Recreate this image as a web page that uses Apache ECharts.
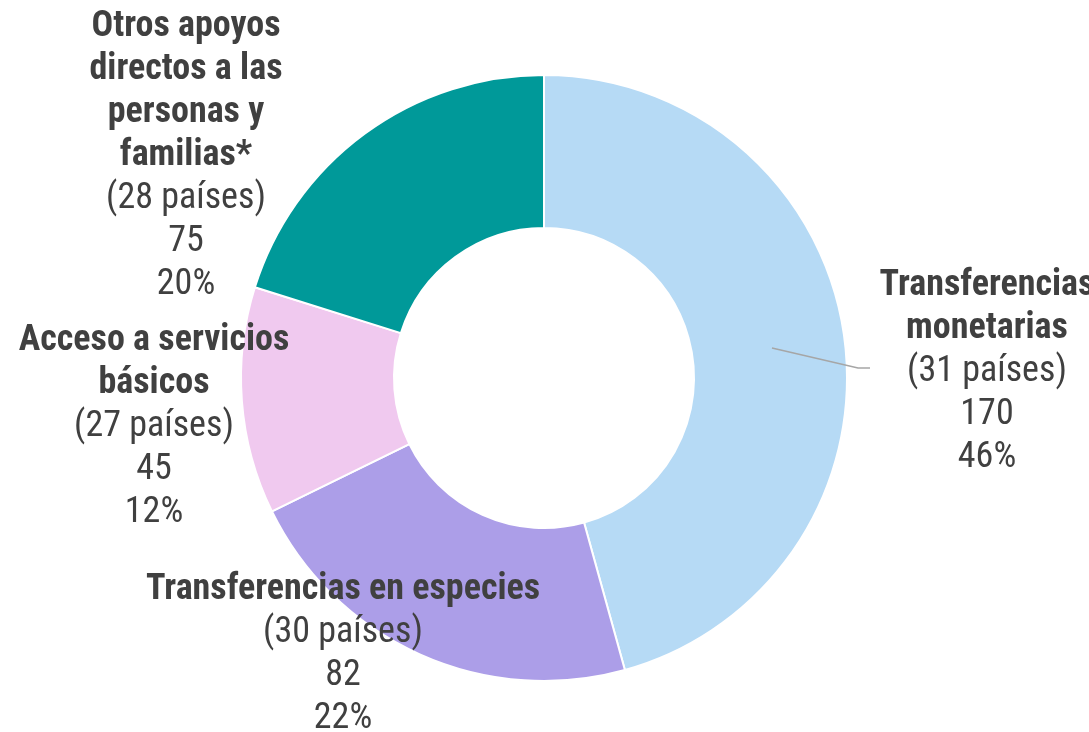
<!DOCTYPE html>
<html lang="es">
  <head>
    <meta charset="UTF-8" />
    <title>donut apoyos</title>
    <script src="https://cdn.jsdelivr.net/npm/echarts@6/dist/echarts.min.js"></script>
    <style>
      html, body { margin: 0; padding: 0; background: #ffffff; }
      #donut { width: 1089px; height: 732px; }
    </style>
  </head>
  <body>
    <div id="donut"></div>
    <script>
      // datos
      var categories = [
        'Transferencias\nmonetarias',
        'Transferencias en especies',
        'Acceso a servicios\nbásicos',
        'Otros apoyos\ndirectos a las\npersonas y\nfamilias*'
      ];
      var values = [170, 82, 45, 75];
      var paises = [31, 30, 27, 28];
      var colors = ['#B6DAF5', '#AC9EE8', '#F0C9EF', '#009999'];

      // posicion de las etiquetas (centro x, borde superior y)
      var labelX = [987, 343, 154, 186];
      var labelY = [264, 568, 319, 5];

      var fontFam = "'Liberation Sans Narrow', 'Arial Narrow', 'Roboto Condensed', sans-serif";

      donutChart();
      function donutChart() {
        var el = document.getElementById('donut');
        var chart = echarts.init(el);

        var chartData = [];
        for (var i = 0; i < values.length; i += 1) {
          chartData.push({
            name: categories[i],
            value: values[i],
            itemStyle: { color: colors[i] }
          });
        }

        var option = {
          animation: false,
          series: [
            {
              type: 'pie',
              center: [544, 378],
              radius: [150, 303],
              startAngle: 90,
              clockwise: true,
              avoidLabelOverlap: false,
              itemStyle: { borderColor: '#ffffff', borderWidth: 2 },
              labelLine: { show: false },
              label: {
                show: true,
                position: 'outside',
                overflow: 'none',
                color: '#404040',
                fontFamily: fontFam,
                formatter: function (p) {
                  var lines = p.name.split('\n').map(function (t) {
                    return '{b|' + t + '}';
                  });
                  lines.push('{n|(' + paises[p.dataIndex] + ' países)}');
                  lines.push('{n|' + p.value + '}');
                  lines.push('{n|' + Math.round(p.percent) + '%}');
                  return lines.join('\n');
                },
                rich: {
                  b: { fontFamily: fontFam, fontSize: 36, fontWeight: 'bold', lineHeight: 43, color: '#404040', align: 'center' },
                  n: { fontFamily: fontFam, fontSize: 36, lineHeight: 43, color: '#404040', align: 'center' }
                }
              },
              labelLayout: function (params) {
                return {
                  x: labelX[params.dataIndex],
                  y: labelY[params.dataIndex],
                  align: 'center',
                  verticalAlign: 'top'
                };
              },
              data: chartData
            }
          ],
          graphic: [
            {
              type: 'polyline',
              shape: { points: [[772, 348], [858, 368], [870, 368]] },
              style: { stroke: '#A6A6A6', lineWidth: 1.5, fill: null },
              z: 10
            }
          ]
        };

        chart.setOption(option);
      }
    </script>
  </body>
</html>
